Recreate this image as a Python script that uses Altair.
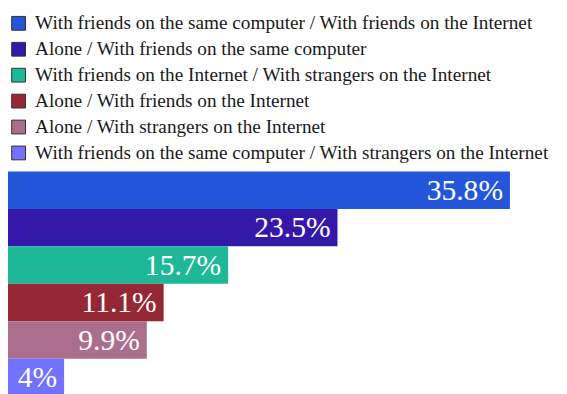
import altair as alt
import pandas as pd

categories = [
    "With friends on the same computer / With friends on the Internet",
    "Alone / With friends on the same computer",
    "With friends on the Internet / With strangers on the Internet",
    "Alone / With friends on the Internet",
    "Alone / With strangers on the Internet",
    "With friends on the same computer / With strangers on the Internet",
]
values = [35.8, 23.5, 15.7, 11.1, 9.9, 4.0]
labels = ["35.8%", "23.5%", "15.7%", "11.1%", "9.9%", "4%"]
colors = ["#2456DB", "#3318A9", "#1EB899", "#952834", "#AC6E8D", "#7272FE"]

df = pd.DataFrame({"cat": categories, "value": values, "label": labels})

FONT = "Liberation Serif"

y = alt.Y("cat:N", sort=categories, axis=None,
          scale=alt.Scale(paddingInner=0, paddingOuter=0))
x = alt.X("value:Q", axis=None, scale=alt.Scale(domain=[0, 39.3], nice=False, zero=True))

bars = alt.Chart(df).mark_bar(opacity=1).encode(
    x=x,
    y=y,
    color=alt.Color(
        "cat:N",
        scale=alt.Scale(domain=categories, range=colors),
        sort=categories,
        legend=alt.Legend(
            title=None,
            orient="none",
            legendX=1,
            legendY=-160,
            symbolType="square",
            symbolSize=196,
            symbolStrokeColor="#333333",
            symbolStrokeWidth=1,
            symbolOpacity=1,
            labelFont=FONT,
            labelFontSize=19.5,
            labelColor="#1a1a1a",
            labelOffset=7,
            labelLimit=0,
            rowPadding=5.3,
            padding=0,
        ),
    ),
)

text = alt.Chart(df).mark_text(
    align="right", baseline="middle", dx=-7, dy=1, color="white",
    font=FONT, fontSize=30,
).encode(x=x, y=y, text="label:N")

chart = (bars + text).properties(
    width=559,
    height=228,
    autosize=alt.AutoSizeParams(type="none"),
    padding={"left": 0, "top": 163, "right": 0, "bottom": -5},
).configure_view(stroke=None)

chart.save("out.html", embed_options={"renderer": "svg", "actions": False})
